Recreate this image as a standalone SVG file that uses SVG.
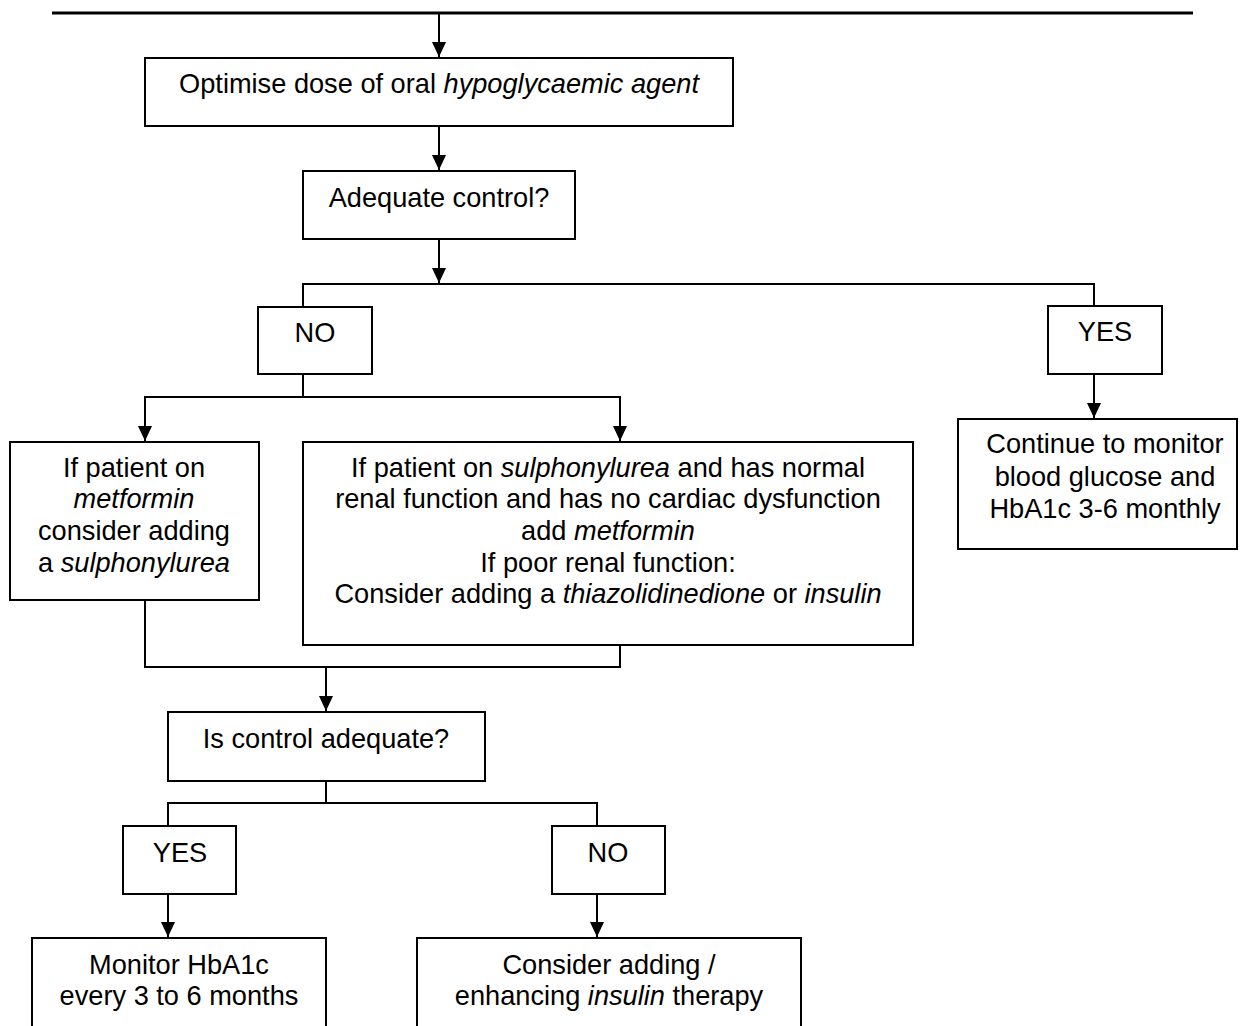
<svg xmlns="http://www.w3.org/2000/svg" width="1241" height="1026" viewBox="0 0 1241 1026">
<style>
.box{fill:#fff;stroke:#000;stroke-width:2}
.ln{fill:none;stroke:#000;stroke-width:2}
text{font-family:"Liberation Sans",Arial,sans-serif;font-size:27.2px;fill:#000;text-anchor:middle}
.i{font-style:italic}
</style>
<defs>
<marker id="ah" markerWidth="16" markerHeight="16" refX="15" refY="7" orient="auto" markerUnits="userSpaceOnUse">
<path d="M0,0 L15,7 L0,14 Z" fill="#000"/>
</marker>
</defs>
<rect width="1241" height="1026" fill="#fff"/>
<g id="connectors">
<line x1="52" y1="13" x2="1193" y2="13" stroke="#000" stroke-width="3"/>
<line class="ln" x1="439" y1="13" x2="439" y2="57" marker-end="url(#ah)"/>
<line class="ln" x1="439" y1="126" x2="439" y2="170" marker-end="url(#ah)"/>
<line class="ln" x1="439" y1="239" x2="439" y2="283" marker-end="url(#ah)"/>
<polyline class="ln" points="303,307 303,284 1094,284 1094,306"/>
<line class="ln" x1="1094" y1="374" x2="1094" y2="418" marker-end="url(#ah)"/>
<line class="ln" x1="303" y1="374" x2="303" y2="397"/>
<polyline class="ln" points="145,410 145,397 620,397 620,410"/>
<line class="ln" x1="145" y1="410" x2="145" y2="441" marker-end="url(#ah)"/>
<line class="ln" x1="620" y1="410" x2="620" y2="441" marker-end="url(#ah)"/>
<polyline class="ln" points="145,600 145,667 620,667 620,645"/>
<line class="ln" x1="326" y1="667" x2="326" y2="711" marker-end="url(#ah)"/>
<line class="ln" x1="326" y1="781" x2="326" y2="803"/>
<polyline class="ln" points="168,826 168,803 597,803 597,826"/>
<line class="ln" x1="168" y1="894" x2="168" y2="937" marker-end="url(#ah)"/>
<line class="ln" x1="597" y1="894" x2="597" y2="937" marker-end="url(#ah)"/>
</g>
<g id="optimise">
<rect class="box" x="145" y="58" width="588" height="68"/>
<text x="439" y="93">Optimise dose of oral <tspan class="i">hypoglycaemic agent</tspan></text>
</g>
<g id="adequate">
<rect class="box" x="303" y="171" width="272" height="68"/>
<text x="439" y="207">Adequate control?</text>
</g>
<g id="no1">
<rect class="box" x="258" y="307" width="114" height="67"/>
<text x="315" y="342">NO</text>
</g>
<g id="yes1">
<rect class="box" x="1048" y="306" width="114" height="68"/>
<text x="1105" y="341">YES</text>
</g>
<g id="continue">
<rect class="box" x="958" y="419" width="279" height="130"/>
<text x="1105" y="453">Continue to monitor</text>
<text x="1105" y="486">blood glucose and</text>
<text x="1105" y="518">HbA1c 3-6 monthly</text>
</g>
<g id="metformin">
<rect class="box" x="10" y="442" width="249" height="158"/>
<text x="134" y="477">If patient on</text>
<text x="134" y="508" class="i">metformin</text>
<text x="134" y="540">consider adding</text>
<text x="134" y="572">a <tspan class="i">sulphonylurea</tspan></text>
</g>
<g id="sulphonylurea">
<rect class="box" x="303" y="442" width="610" height="203"/>
<text x="608" y="477">If patient on <tspan class="i">sulphonylurea</tspan> and has normal</text>
<text x="608" y="508">renal function and has no cardiac dysfunction</text>
<text x="608" y="540">add <tspan class="i">metformin</tspan></text>
<text x="608" y="572">If poor renal function:</text>
<text x="608" y="603">Consider adding a <tspan class="i">thiazolidinedione</tspan> or <tspan class="i">insulin</tspan></text>
</g>
<g id="iscontrol">
<rect class="box" x="168" y="712" width="317" height="69"/>
<text x="326" y="748">Is control adequate?</text>
</g>
<g id="yes2">
<rect class="box" x="123" y="826" width="113" height="68"/>
<text x="180" y="862">YES</text>
</g>
<g id="no2">
<rect class="box" x="552" y="826" width="113" height="68"/>
<text x="608" y="862">NO</text>
</g>
<g id="monitor">
<rect class="box" x="32" y="938" width="294" height="110"/>
<text x="179" y="974">Monitor HbA1c</text>
<text x="179" y="1005">every 3 to 6 months</text>
</g>
<g id="insulin">
<rect class="box" x="417" y="938" width="384" height="110"/>
<text x="609" y="974">Consider adding /</text>
<text x="609" y="1005">enhancing <tspan class="i">insulin</tspan> therapy</text>
</g>
</svg>
